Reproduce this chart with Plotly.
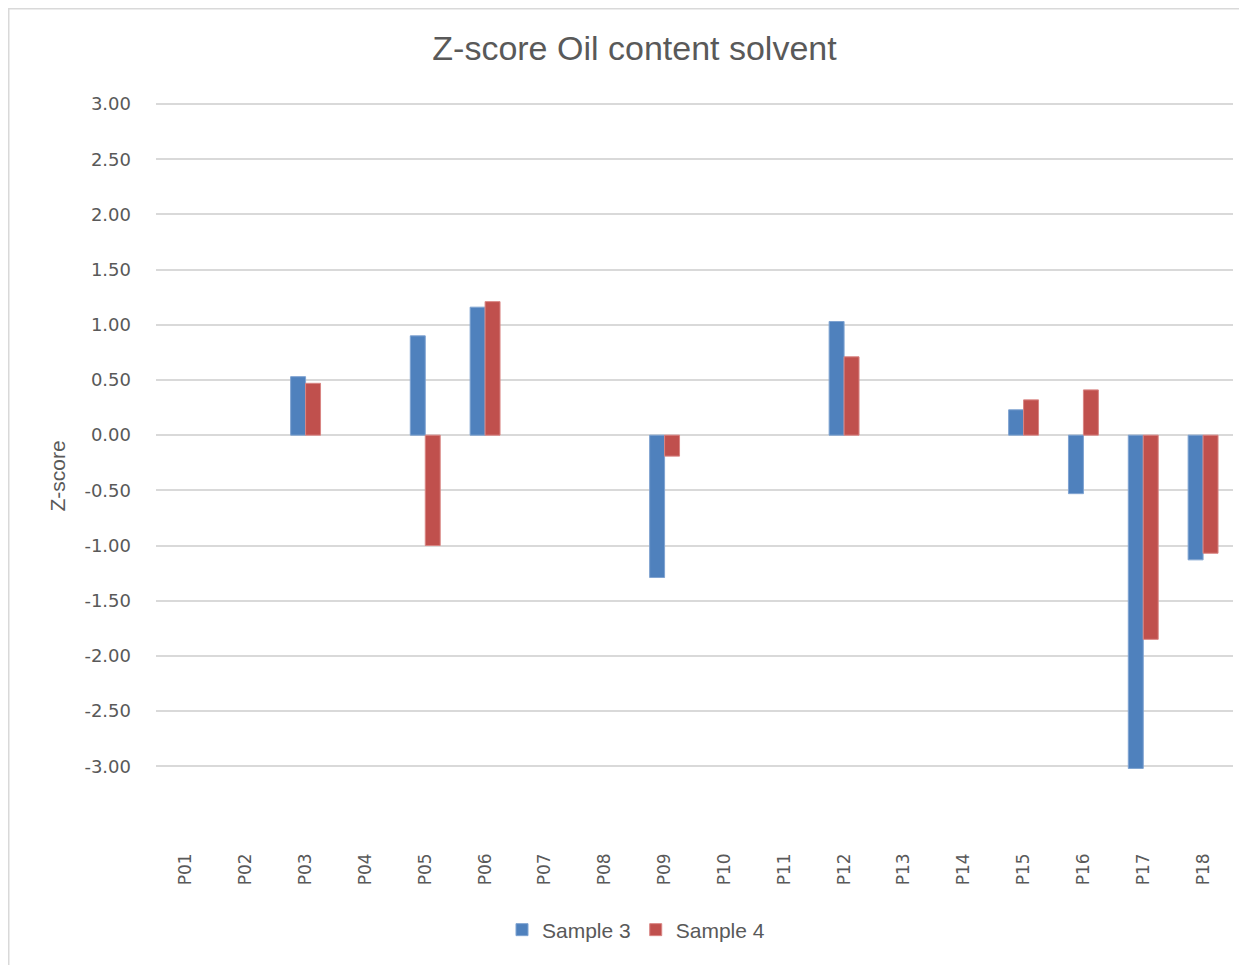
import plotly.graph_objects as go

categories = ["P01", "P02", "P03", "P04", "P05", "P06", "P07", "P08", "P09",
              "P10", "P11", "P12", "P13", "P14", "P15", "P16", "P17", "P18"]
sample3 = [None, None, 0.53, None, 0.90, 1.16, None, None, -1.29,
           None, None, 1.03, None, None, 0.23, -0.53, -3.02, -1.13]
sample4 = [None, None, 0.47, None, -1.00, 1.21, None, None, -0.19,
           None, None, 0.71, None, None, 0.32, 0.41, -1.85, -1.07]
ytick_vals = [3.0, 2.5, 2.0, 1.5, 1.0, 0.5, 0.0, -0.5, -1.0, -1.5, -2.0, -2.5, -3.0]
ytick_text = [f"{v:.2f}" for v in ytick_vals]

# page has an 8px body margin, so the figure is sized to fit inside the window
W, H = 1239, 957
ml, mr, mt, mb = 148, 14, 95, 116
pw = W - ml - mr
ph = H - mt - mb

TXT = "#595959"
fig = go.Figure()
fig.add_trace(go.Bar(x=categories, y=sample3, name="Sample 3",
                     marker=dict(color="#4F81BD", line=dict(color="#7FA3D1", width=1))))
fig.add_trace(go.Bar(x=categories, y=sample4, name="Sample 4",
                     marker=dict(color="#C0504D", line=dict(color="#D98583", width=1))))

fig.update_layout(
    width=W, height=H,
    margin=dict(l=ml, r=mr, t=mt, b=mb),
    paper_bgcolor="white", plot_bgcolor="white",
    barmode="group", bargap=0.5, bargroupgap=0,
    font=dict(family="DejaVu Sans, sans-serif", color=TXT),
    title=dict(text="Z-score Oil content solvent", x=(634.5 - 8) / W, xanchor="center",
               y=1 - 40 / H, yanchor="middle",
               font=dict(size=34, family="Liberation Sans, sans-serif", color=TXT)),
    xaxis=dict(type="category", showgrid=False, zeroline=False, showline=False,
               tickangle=-90, ticks="", tickfont=dict(size=17, family="DejaVu Sans", color=TXT)),
    yaxis=dict(range=[-3.75, 3.01], tickvals=ytick_vals, ticktext=ytick_text,
               showgrid=True, gridcolor="#D9D9D9", gridwidth=1.5,
               zeroline=True, zerolinecolor="#D9D9D9", zerolinewidth=1.5,
               showline=False, ticks="", ticklabelstandoff=24,
               tickfont=dict(size=18, family="DejaVu Sans", color=TXT),
               title=dict(text="Z-score", standoff=13,
                          font=dict(size=21, family="Liberation Sans, sans-serif", color=TXT))),
    legend=dict(orientation="h", x=(636 - 8 - ml) / pw, xanchor="center",
                y=-(922 - (H - mb)) / ph, yanchor="middle",
                font=dict(size=21, family="Liberation Sans, sans-serif", color=TXT),
                itemwidth=30, traceorder="normal"),
    showlegend=True,
)

fig.add_shape(type="rect", xref="paper", yref="paper",
              x0=(0.75 - ml) / pw, x1=(1237 - ml) / pw,
              y0=(H - mb - 960) / ph, y1=(H - mb - 0.75) / ph,
              line=dict(color="#D9D9D9", width=1.5), fillcolor="rgba(0,0,0,0)", layer="below")

fig.write_html("out.html")
